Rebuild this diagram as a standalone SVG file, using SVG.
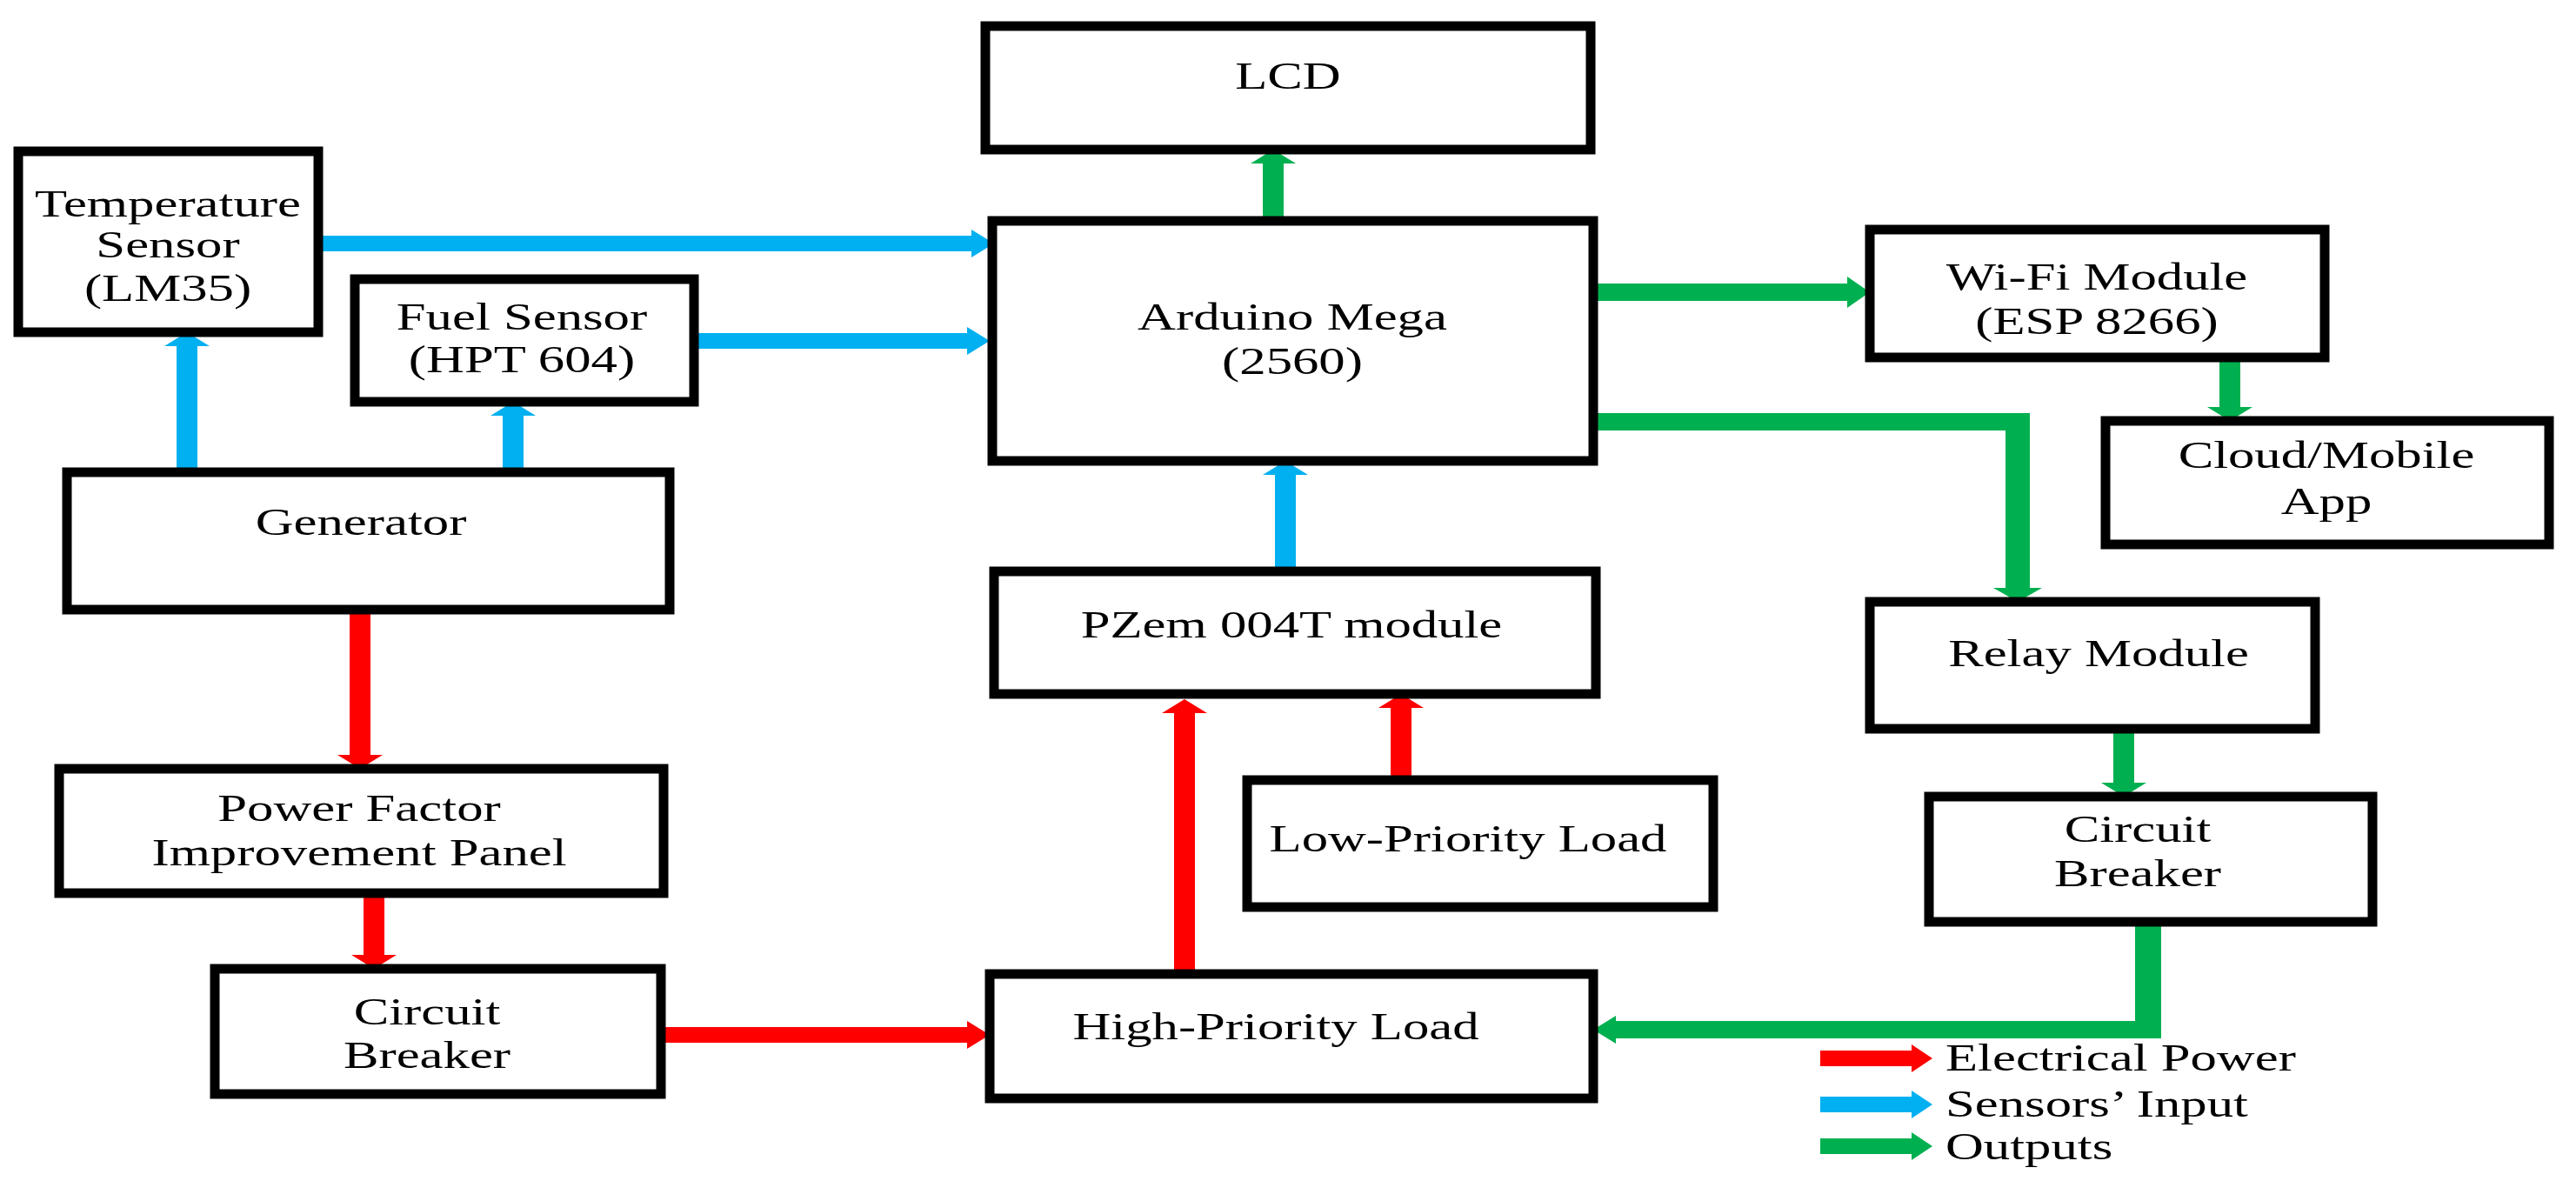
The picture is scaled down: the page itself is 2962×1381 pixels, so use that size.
<svg xmlns="http://www.w3.org/2000/svg" width="2962" height="1381" viewBox="0 0 2962 1381">
<style>
.box{fill:#fff;stroke:#000;stroke-width:11}
text{font-family:"Liberation Serif","Times New Roman",serif;font-size:44px;fill:#000;text-anchor:middle}
.lg{text-anchor:start}
.r{fill:#ff0000}.b{fill:#00b0f0}.g{fill:#00b050}
</style>
<rect width="2962" height="1381" fill="#fff"/>
<g id="connectors">
<polygon class="b" points="366,271 1117,271 1117,264 1143,280 1117,296 1117,289 366,289"/>
<polygon class="b" points="801,383 1112,383 1112,376 1138,392 1112,408 1112,401 801,401"/>
<polygon class="g" points="1832,326 2124,326 2124,318 2150,336 2124,354 2124,346 1832,346"/>
<polygon class="r" points="760,1181 1112,1181 1112,1174 1138,1190 1112,1206 1112,1199 760,1199"/>
<polygon class="b" points="203,543 203,398 189,398 215,382 241,398 227,398 227,543"/>
<polygon class="b" points="578,543 578,478 564,478 590,462 616,478 602,478 602,543"/>
<polygon class="g" points="1452,254 1452,188 1438,188 1464,172 1490,188 1476,188 1476,254"/>
<polygon class="b" points="1466,657 1466,546 1452,546 1478,530 1504,546 1490,546 1490,657"/>
<polygon class="r" points="1350,1120 1350,820 1336,820 1362,804 1388,820 1374,820 1374,1120"/>
<polygon class="r" points="1599,897 1599,814 1585,814 1611,798 1637,814 1623,814 1623,897"/>
<polygon class="r" points="402,701 402,868 388,868 414,884 440,868 426,868 426,701"/>
<polygon class="r" points="418,1027 418,1098 404,1098 430,1114 456,1098 442,1098 442,1027"/>
<polygon class="g" points="2552,411 2552,468 2538,468 2564,484 2590,468 2576,468 2576,411"/>
<polygon class="g" points="2430,838 2430,900 2416,900 2442,916 2468,900 2454,900 2454,838"/>
<polygon class="g" points="1832,475 2334,475 2334,676 2348,676 2320,692 2292,676 2306,676 2306,495 1832,495"/>
<polygon class="g" points="2455,1060 2485,1060 2485,1194 1858,1194 1858,1200 1832,1184 1858,1168 1858,1174 2455,1174"/>
</g>
<g id="lcd"><rect class="box" x="1133" y="30" width="696" height="142"/><text transform="translate(1481,102) scale(1.38,1)">LCD</text></g>
<g id="temp"><rect class="box" x="21" y="174" width="345" height="208"/><text transform="translate(193,249) scale(1.38,1)">Temperature</text><text transform="translate(193,296) scale(1.38,1)">Sensor</text><text transform="translate(193,346) scale(1.38,1)">(LM35)</text></g>
<g id="fuel"><rect class="box" x="408" y="321" width="390" height="141"/><text transform="translate(600,379) scale(1.38,1)">Fuel Sensor</text><text transform="translate(600,428) scale(1.38,1)">(HPT 604)</text></g>
<g id="arduino"><rect class="box" x="1141" y="254" width="691" height="276"/><text transform="translate(1486,379) scale(1.38,1)">Arduino Mega</text><text transform="translate(1486,430) scale(1.38,1)">(2560)</text></g>
<g id="generator"><rect class="box" x="77" y="543" width="693" height="158"/><text transform="translate(415,615) scale(1.38,1)">Generator</text></g>
<g id="wifi"><rect class="box" x="2150" y="264" width="523" height="147"/><text transform="translate(2411,333) scale(1.38,1)">Wi-Fi Module</text><text transform="translate(2411,384) scale(1.38,1)">(ESP 8266)</text></g>
<g id="cloud"><rect class="box" x="2421" y="484" width="510" height="142"/><text transform="translate(2675,538) scale(1.38,1)">Cloud/Mobile</text><text transform="translate(2675,591) scale(1.38,1)">App</text></g>
<g id="pfi"><rect class="box" x="68" y="884" width="695" height="143"/><text transform="translate(413,944) scale(1.38,1)">Power Factor</text><text transform="translate(413,995) scale(1.38,1)">Improvement Panel</text></g>
<g id="cb1"><rect class="box" x="247" y="1114" width="513" height="144"/><text transform="translate(491,1178) scale(1.38,1)">Circuit</text><text transform="translate(491,1228) scale(1.38,1)">Breaker</text></g>
<g id="highload"><rect class="box" x="1138" y="1120" width="694" height="143"/><text transform="translate(1467,1195) scale(1.38,1)">High-Priority Load</text></g>
<g id="pzem"><rect class="box" x="1143" y="657" width="692" height="141"/><text transform="translate(1485,733) scale(1.38,1)">PZem 004T module</text></g>
<g id="lowload"><rect class="box" x="1434" y="897" width="536" height="146"/><text transform="translate(1688,979) scale(1.38,1)">Low-Priority Load</text></g>
<g id="relay"><rect class="box" x="2150" y="692" width="512" height="146"/><text transform="translate(2413,766) scale(1.38,1)">Relay Module</text></g>
<g id="cb2"><rect class="box" x="2218" y="916" width="510" height="144"/><text transform="translate(2458,968) scale(1.38,1)">Circuit</text><text transform="translate(2458,1019) scale(1.38,1)">Breaker</text></g>
<g id="legend">
<polygon class="r" points="2093,1208 2198,1208 2198,1201 2222,1217 2198,1233 2198,1226 2093,1226"/>
<polygon class="b" points="2093,1261 2198,1261 2198,1254 2222,1270 2198,1286 2198,1279 2093,1279"/>
<polygon class="g" points="2093,1309 2198,1309 2198,1302 2222,1318 2198,1334 2198,1327 2093,1327"/>
<text class="lg" transform="translate(2237,1231) scale(1.38,1)">Electrical Power</text>
<text class="lg" transform="translate(2237,1284) scale(1.38,1)">Sensors’ Input</text>
<text class="lg" transform="translate(2237,1333) scale(1.38,1)">Outputs</text>
</g>
</svg>
